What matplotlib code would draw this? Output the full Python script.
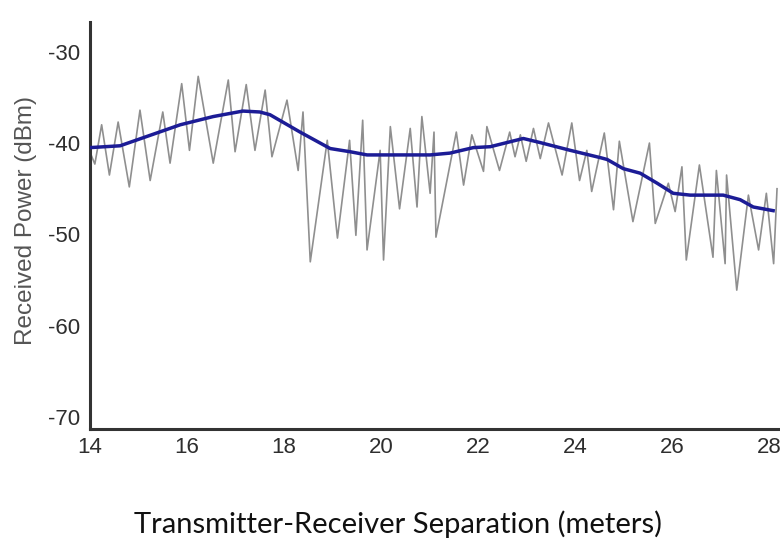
import matplotlib
matplotlib.use("Agg")
import matplotlib.pyplot as plt

# Measured (fast-fading) received power
meas_x = [14.00, 14.10, 14.24, 14.40, 14.58, 14.81, 15.03, 15.24, 15.50, 15.65,
          15.89, 16.05, 16.23, 16.54, 16.85, 16.99, 17.22, 17.40, 17.61, 17.75,
          18.06, 18.29, 18.39, 18.54, 18.89, 19.10, 19.35, 19.48, 19.62, 19.71,
          19.98, 20.05, 20.19, 20.38, 20.60, 20.74, 20.84, 21.01, 21.09, 21.13,
          21.55, 21.70, 21.87, 22.11, 22.18, 22.44, 22.65, 22.76, 22.87, 22.99,
          23.14, 23.28, 23.45, 23.73, 23.93, 24.09, 24.24, 24.34, 24.60, 24.79,
          24.91, 25.19, 25.53, 25.65, 25.92, 26.06, 26.20, 26.29, 26.56, 26.84,
          26.91, 27.09, 27.12, 27.33, 27.57, 27.78, 27.94, 28.09, 28.16]
meas_db = [-41.0, -42.3, -38.0, -43.5, -37.7, -44.8, -36.4, -44.1, -36.6, -42.2,
           -33.5, -40.8, -32.7, -42.2, -33.1, -40.95, -33.6, -40.8, -34.2, -41.5,
           -35.3, -43.0, -36.6, -53.0, -39.7, -50.4, -39.7, -50.1, -37.5, -51.7,
           -40.8, -52.8, -38.2, -47.2, -38.4, -47.0, -37.1, -45.5, -38.8, -50.3,
           -38.8, -44.6, -39.1, -43.1, -38.2, -43.0, -38.8, -41.5, -39.1, -42.0,
           -38.4, -41.7, -37.8, -43.5, -37.8, -44.1, -40.8, -45.3, -38.9, -47.3,
           -39.8, -48.6, -40.0, -48.8, -44.4, -47.5, -42.6, -52.8, -42.4, -52.5,
           -43.0, -53.2, -43.5, -56.1, -45.7, -51.7, -45.5, -53.2, -45.0]

# Local average (smoothed) received power
avg_x = [14.00, 14.62, 15.16, 15.86, 16.54, 17.15, 17.50, 17.71, 18.33, 18.95,
         19.36, 19.71, 21.01, 21.42, 21.90, 22.25, 22.93, 23.28, 23.90, 24.52,
         24.66, 24.99, 25.34, 25.69, 26.02, 26.37, 27.05, 27.40, 27.67, 28.08]
avg_db = [-40.5, -40.3, -39.3, -38.0, -37.1, -36.5, -36.6, -36.9, -38.8, -40.6,
          -40.95, -41.3, -41.3, -41.1, -40.5, -40.4, -39.5, -39.95, -40.8, -41.6,
          -41.8, -42.8, -43.3, -44.4, -45.5, -45.7, -45.7, -46.2, -47.0, -47.4]

x_ticks = [14, 16, 18, 20, 22, 24, 26, 28]
y_ticks = [-70, -60, -50, -40, -30]

fig = plt.figure(figsize=(7.8, 5.38), dpi=100)
ax = fig.add_axes([90 / 780, (538 - 429) / 538, (778 - 90) / 780, (429 - 22) / 538])

ax.plot(meas_x, meas_db, color="#8f8f8f", lw=1.2, zorder=2)
ax.plot(avg_x, avg_db, color="#1c1c96", lw=2.5, zorder=3)

ax.set_xlim(14, 28.18)
ax.set_ylim(-71.3, -26.75)
ax.set_xticks(x_ticks)
ax.set_yticks(y_ticks)
ax.set_xticklabels([str(t) for t in x_ticks])
ax.set_yticklabels([str(t) for t in y_ticks])

for s in ["top", "right"]:
    ax.spines[s].set_visible(False)
for s in ["left", "bottom"]:
    ax.spines[s].set_color("#333333")
    ax.spines[s].set_linewidth(2.2)

ax.tick_params(axis="both", length=0, labelsize=16, labelcolor="#2e2e2e",
               labelfontfamily="Liberation Sans")
ax.tick_params(axis="y", pad=7)
ax.tick_params(axis="x", pad=6)

fig.text(26 / 780, 1 - 221 / 538, "Received Power (dBm)", rotation=90,
         ha="center", va="center", fontsize=17.5, color="#555555",
         family="Liberation Sans")
fig.text(398.5 / 780, 5 / 538, "Transmitter-Receiver Separation (meters)",
         ha="center", va="baseline", fontsize=21, color="#111111", family="Lato")

fig.savefig("out.png", dpi=100)
